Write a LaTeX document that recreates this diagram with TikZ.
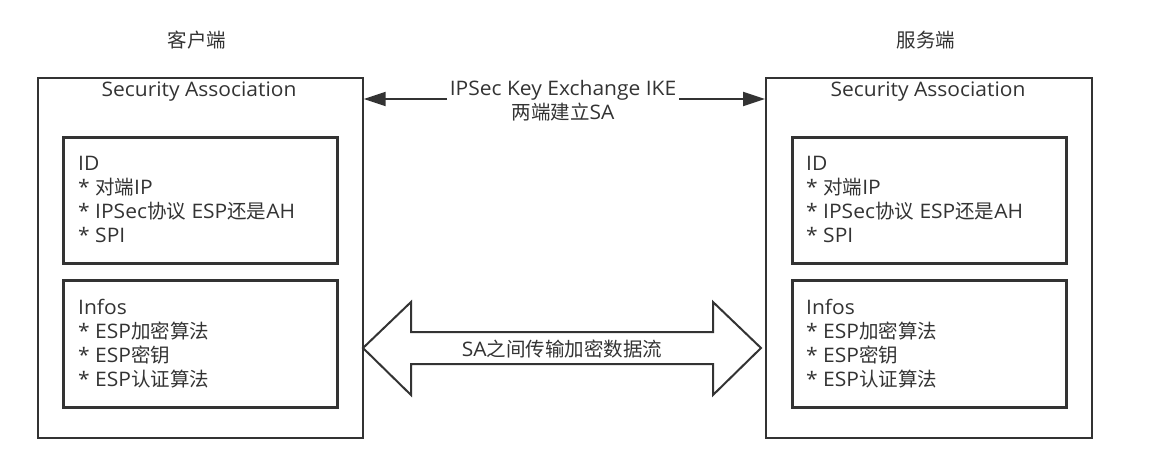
\documentclass[tikz,border=0pt]{standalone}
\usepackage{fontspec}
\setmainfont{Open Sans}[FakeStretch=1.05]
\newfontfamily\cjk{Noto Sans CJK SC}
\newcommand{\zh}[1]{{\cjk\fontsize{19.5}{24}\selectfont #1}}
\usetikzlibrary{arrows.meta}
\definecolor{ln}{HTML}{333333}
\definecolor{tx}{HTML}{333333}
\begin{document}
\begin{tikzpicture}[x=1pt,y=-1pt,
  outerbox/.style={draw=ln,line width=1.7pt},
  innerbox/.style={draw=ln,line width=2.5pt},
  lbl/.style={text=tx,font=\fontsize{20}{24}\selectfont,inner sep=0pt},
  listtxt/.style={lbl,align=left,anchor=north west},
  ike/.style={draw=ln,line width=2pt,-{Triangle[length=22pt,width=14pt]}}]
\useasboundingbox (0,0) rectangle (1158,474);
% outer boxes
\node[outerbox,minimum width=325pt,minimum height=360pt,anchor=north west,inner sep=0pt] (L) at (37,77) {};
\node[outerbox,minimum width=326pt,minimum height=360pt,anchor=north west,inner sep=0pt] (R) at (765,77) {};
% titles
\node[lbl] (tL) at (197,40) {\zh{客户端}};
\node[lbl] (tR) at (926,40) {\zh{服务端}};
\node[lbl] (saL) at (199,92) {Security Association};
\node[lbl] (saR) at (928,92) {Security Association};
% inner boxes
\node[innerbox,minimum width=274pt,minimum height=126pt,anchor=north west,inner sep=0pt] (idL) at (62,136) {};
\node[innerbox,minimum width=274pt,minimum height=127pt,anchor=north west,inner sep=0pt] (infL) at (62,279) {};
\node[innerbox,minimum width=274pt,minimum height=126pt,anchor=north west,inner sep=0pt] (idR) at (791,136) {};
\node[innerbox,minimum width=274pt,minimum height=127pt,anchor=north west,inner sep=0pt] (infR) at (791,279) {};
% texts
\node[listtxt] (idLt) at (78,156) {ID\\* \zh{对端}IP\\* IPSec\zh{协议} ESP\zh{还是}AH\\* SPI};
\node[listtxt] (infLt) at (78,299) {Infos\\* ESP\zh{加密算法}\\* ESP\zh{密钥}\\* ESP\zh{认证算法}};
\node[listtxt] (idRt) at (806,156) {ID\\* \zh{对端}IP\\* IPSec\zh{协议} ESP\zh{还是}AH\\* SPI};
\node[listtxt] (infRt) at (806,299) {Infos\\* ESP\zh{加密算法}\\* ESP\zh{密钥}\\* ESP\zh{认证算法}};
% IKE arrows
\node[lbl,align=center] (ikeT) at (563,101) {IPSec Key Exchange IKE\\\zh{两端建立}SA};
\coordinate (ikeA) at (447,99);
\coordinate (ikeB) at (679,99);
\draw[ike] (ikeA) -- (L.east |- ikeA);
\draw[ike] (ikeB) -- (R.west |- ikeB);
% big double arrow
\draw[draw=ln,line width=2pt,line join=miter,fill=white]
  (363,348) -- (411,302) -- (411,332) -- (713,332) -- (713,302) -- (761,348)
  -- (713,395) -- (713,364) -- (411,364) -- (411,395) -- cycle;
\node[lbl] (flow) at (562,349) {SA\zh{之间传输加密数据流}};
\end{tikzpicture}
\end{document}
